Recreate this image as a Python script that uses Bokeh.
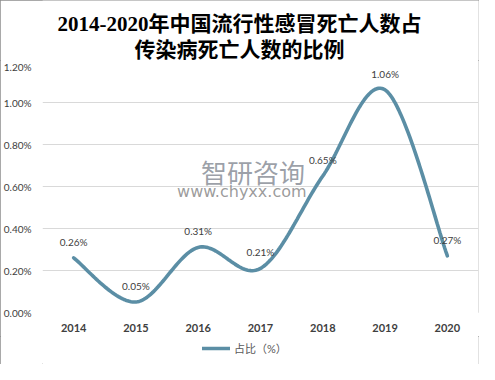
import numpy as np
from bokeh.plotting import figure
from bokeh.layouts import column
from bokeh.models import (Range1d, FixedTicker, PrintfTickFormatter,
                          Legend, LegendItem, ColumnDataSource)
from bokeh.core.properties import value
from bokeh.embed import file_html
from bokeh.resources import INLINE

# ---- data ----
years = ["2014", "2015", "2016", "2017", "2018", "2019", "2020"]
share = [0.26, 0.05, 0.31, 0.21, 0.65, 1.06, 0.27]
labels = ["0.26%", "0.05%", "0.31%", "0.21%", "0.65%", "1.06%", "0.27%"]
y_ticks = [0.0, 0.2, 0.4, 0.6, 0.8, 1.0, 1.2]
title_1 = "2014-2020年中国流行性感冒死亡人数占"
title_2 = "传染病死亡人数的比例"
series_name = "占比（%）"

LINE = "#5b8ea5"
TXT = "#404040"
FONT = "Lato, Noto Sans CJK SC"
W = 479
BL, BR = 42, 1

# smooth (Catmull-Rom / Bezier) curve through the data points
xs = np.arange(len(share), dtype=float)
ys = np.array(share, dtype=float)
px = np.concatenate([[xs[0]], xs, [xs[-1]]])
py = np.concatenate([[ys[0]], ys, [ys[-1]]])
cx, cy = [], []
t = np.linspace(0, 1, 40)
for i in range(len(xs) - 1):
    p0 = np.array([px[i + 1], py[i + 1]])
    p3 = np.array([px[i + 2], py[i + 2]])
    c1 = p0 + (np.array([px[i + 2], py[i + 2]]) - np.array([px[i], py[i]])) / 6
    c2 = p3 - (np.array([px[i + 3], py[i + 3]]) - np.array([px[i + 1], py[i + 1]])) / 6
    b = ((1 - t) ** 3)[:, None] * p0 + (3 * (1 - t) ** 2 * t)[:, None] * c1 \
        + (3 * (1 - t) * t ** 2)[:, None] * c2 + (t ** 3)[:, None] * p3
    cx.extend(b[:, 0]); cy.extend(b[:, 1])

# ---- title strip (pixel-like coordinates) ----
TH = 60
pt = figure(width=W, height=TH, output_backend="svg", toolbar_location=None,
            x_range=Range1d(BL, W - BR), y_range=Range1d(0, TH),
            min_border_left=BL, min_border_right=BR, min_border_top=0,
            min_border_bottom=0, outline_line_color=None)
pt.axis.visible = False
pt.grid.visible = False
pt.text(x=[239, 239], y=[TH - 23, TH - 49], text=[title_1, title_2],
        text_font=value("Liberation Serif, Noto Sans CJK SC"),
        text_font_size="21px", text_font_style="bold", text_color="#000000",
        text_align="center", text_baseline="middle")

# ---- main chart ----
p = figure(width=W, height=276, output_backend="svg", toolbar_location=None,
           x_range=Range1d(-0.5, len(years) - 0.5), y_range=Range1d(0, 1.2),
           min_border_left=BL, min_border_right=BR, min_border_bottom=24,
           min_border_top=0)
p.outline_line_color = None
p.background_fill_color = "white"
p.border_fill_color = "white"

p.xaxis.ticker = FixedTicker(ticks=list(range(len(years))))
p.xaxis.major_label_overrides = {i: y for i, y in enumerate(years)}
p.xaxis.major_label_text_font = FONT
p.xaxis.major_label_text_font_size = "11px"
p.xaxis.major_label_text_font_style = "bold"
p.xaxis.major_label_text_color = TXT
p.xaxis.major_label_standoff = 11
p.yaxis.ticker = FixedTicker(ticks=y_ticks)
p.yaxis.formatter = PrintfTickFormatter(format="%.2f%%")
p.yaxis.major_label_text_font = FONT
p.yaxis.major_label_text_font_size = "10px"
p.yaxis.major_label_text_color = TXT
p.yaxis.major_label_standoff = 11
for ax in (p.xaxis, p.yaxis):
    ax.axis_line_color = None
    ax.major_tick_line_color = None
    ax.minor_tick_line_color = None
    ax.major_tick_in = 0
    ax.major_tick_out = 0
p.xgrid.grid_line_color = None
p.ygrid.grid_line_color = "#d9d9d9"
p.ygrid.grid_line_width = 1

# watermark
p.text(x=[2.88], y=[0.67], text=["智研咨询"], text_font=value("Noto Sans CJK SC"),
       text_font_size="26px", text_color="#8a8f99", text_alpha=0.85,
       text_align="center", text_baseline="middle")
p.text(x=[2.70], y=[0.575], text=["www.chyxx.com"], text_font=value("DejaVu Sans"),
       text_font_size="16px", text_color="#8a8a8a", text_alpha=0.85,
       text_align="center", text_baseline="middle")

# line
r = p.line(cx, cy, line_color=LINE, line_width=3.6, line_cap="round")

# data labels
src = ColumnDataSource(dict(x=xs, y=ys, t=labels))
p.text(x="x", y="y", text="t", source=src, y_offset=-16,
       text_font=value("Lato"), text_font_size="10px", text_color=TXT,
       text_align="center", text_baseline="middle")

# ---- legend strip ----
pl = figure(width=W, height=28, output_backend="svg", toolbar_location=None,
            x_range=Range1d(0, 1), y_range=Range1d(0, 1),
            min_border_left=BL, min_border_right=BR, min_border_top=0,
            min_border_bottom=0, outline_line_color=None)
pl.axis.visible = False
pl.grid.visible = False
lr = pl.line(x=[-5, -4], y=[-5, -5], line_color=LINE, line_width=3.6,
             line_cap="round")
legend = Legend(items=[LegendItem(label=series_name, renderers=[lr])],
                location=(160, 8), orientation="horizontal",
                label_text_font=FONT, label_text_font_size="11px",
                label_text_color="#595959", glyph_width=28, glyph_height=12,
                border_line_color=None, background_fill_alpha=0,
                padding=2, margin=0, label_standoff=4)
pl.add_layout(legend, "center")

lay = column(pt, p, pl, spacing=0)
lay.styles = {"outline": "1px solid #8c8c8c", "outline-offset": "-1px"}

open("out.html", "w").write(file_html(lay, INLINE))
